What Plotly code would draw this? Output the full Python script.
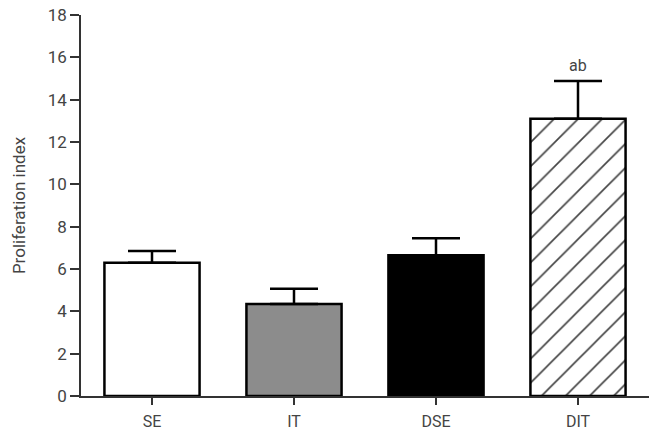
import plotly.graph_objects as go

categories = ["SE", "IT", "DSE", "DIT"]
means = [6.3, 4.35, 6.65, 13.1]
errors = [0.55, 0.72, 0.8, 1.78]
fills = ["white", "#8c8c8c", "black", "white"]
patterns = ["", "", "", "/"]
y_ticks = [0, 2, 4, 6, 8, 10, 12, 14, 16, 18]
annot_text = ["", "", "", "ab"]

FONT = "Roboto, sans-serif"

fig = go.Figure()
fig.add_trace(go.Bar(
    x=categories, y=means,
    width=0.67,
    marker=dict(
        color=fills,
        line=dict(color="black", width=2.5),
        pattern=dict(shape=patterns, fgcolor="black", bgcolor="white", fgopacity=1,
                     size=17, solidity=0.1),
    ),
    error_y=dict(type="data", symmetric=False, array=errors, arrayminus=[0]*4,
                 color="black", thickness=2.5, width=24),
    showlegend=False,
))

for c, m, e, t in zip(categories, means, errors, annot_text):
    if t:
        fig.add_annotation(x=c, y=m + e, text=t, showarrow=False, yanchor="bottom", yshift=4,
                           font=dict(family=FONT, size=16, color="#444"))

fig.update_layout(
    width=651, height=442,
    margin=dict(l=81, r=2, t=15, b=46),
    plot_bgcolor="white", paper_bgcolor="white",
    font=dict(family=FONT, size=16, color="#444"),
    bargap=0.33,
)
fig.update_xaxes(
    range=[-0.5, 3.5], showline=True, linecolor="#333", linewidth=1.5,
    ticks="outside", ticklen=7, tickwidth=1.5, tickcolor="#333", ticklabelstandoff=3,
    tickfont=dict(family=FONT, size=16, color="#444"), showgrid=False, zeroline=False,
)
fig.update_yaxes(
    range=[0, 18], tickvals=y_ticks, showline=True, linecolor="#333", linewidth=1.5,
    ticks="outside", ticklen=9, tickwidth=1.5, tickcolor="#333",
    tickfont=dict(family=FONT, size=17, color="#444"), showgrid=False, zeroline=False,
    title=dict(text="Proliferation index", font=dict(family=FONT, size=17, color="#444"), standoff=18),
)

fig.write_html("out.html")
